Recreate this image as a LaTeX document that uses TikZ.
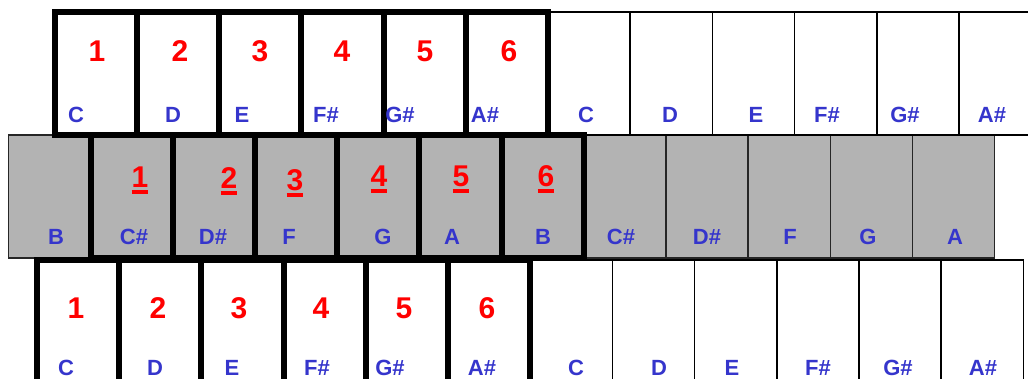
\documentclass[tikz,border=0pt]{standalone}
\usepackage{fontspec}
\setmainfont{Liberation Sans}
\definecolor{keyred}{HTML}{FF0000}
\definecolor{keyblue}{HTML}{3535CC}
\definecolor{keygray}{HTML}{B3B3B3}
\newcommand\ulnum[1]{\setbox0\hbox{#1}\rlap{\rule[-6pt]{\wd0}{3.5pt}}\box0}
\tikzset{
  whitekey/.style={draw=black,line width=1.6pt,fill=white,anchor=north west,inner sep=0,outer sep=0,minimum width=82.2pt,minimum height=123pt},
  graykey/.style={whitekey,draw=black!85,line width=1.4pt,fill=keygray},
  hiline/.style={draw=black,line width=6pt},
  num/.style={font=\bfseries\fontsize{30}{30}\selectfont,text=keyred,anchor=base,inner sep=0},
  note/.style={font=\bfseries\fontsize{22}{22}\selectfont,text=keyblue,anchor=base,inner sep=0}
}
\begin{document}
\begin{tikzpicture}[x=1pt,y=-1pt]
  \useasboundingbox (0,0) rectangle (1028,379);
  \clip (0,0) rectangle (1028,379);

  % middle row (gray)
  \foreach \i in {1,...,12}
    \node[graykey] (mid\i) at ({8.3+(\i-1)*82.2},135) {};
  % top and bottom rows (white)
  \foreach \i in {1,...,12} {
    \node[whitekey] (top\i) at ({54.8+(\i-1)*82.2},12) {};
    \node[whitekey,minimum height=140pt] (bot\i) at ({37+(\i-1)*82.2},260) {};
  }

  % the six keys of each row
  \foreach \i in {1,...,6} {
    \draw[hiline] (top\i.north west) rectangle (top\i.south east);
    \draw[hiline] (bot\i.north west) rectangle (bot\i.south east);
  }
  \foreach \i in {2,...,7}
    \draw[hiline] (mid\i.north west) rectangle (mid\i.south east);

  % top row labels
  \foreach \x [count=\n] in {97,180,260,342,425,509}
    \node[num] (topnum\n) at (\x,62) {\n};
  \foreach \x/\t [count=\n] in {76/C,173/D,242/E,326/F\#,400/G\#,485/A\#,586/C,670/D,756/E,827/F\#,905/G\#,992/A\#}
    \node[note] (topnote\n) at (\x,123) {\t};

  % middle row labels
  \foreach \x/\y [count=\n] in {140/188,229/189,295/191,379/187,461/187,546/187}
    \node[num] (midnum\n) at (\x,\y) {\ulnum{\n}};
  \foreach \x/\t [count=\n] in {56/B,134/C\#,213/D\#,289/F,383/G,452/A,543/B,621/C\#,707/D\#,790/F,868/G,955/A}
    \node[note] (midnote\n) at (\x,245) {\t};

  % bottom row labels
  \foreach \x [count=\n] in {76,158,239,321,404,487}
    \node[num] (botnum\n) at (\x,319) {\n};
  \foreach \x/\t [count=\n] in {66/C,155/D,232/E,317/F\#,390/G\#,482/A\#,576/C,659/D,732/E,818/F\#,898/G\#,983/A\#}
    \node[note] (botnote\n) at (\x,375) {\t};
\end{tikzpicture}
\end{document}
